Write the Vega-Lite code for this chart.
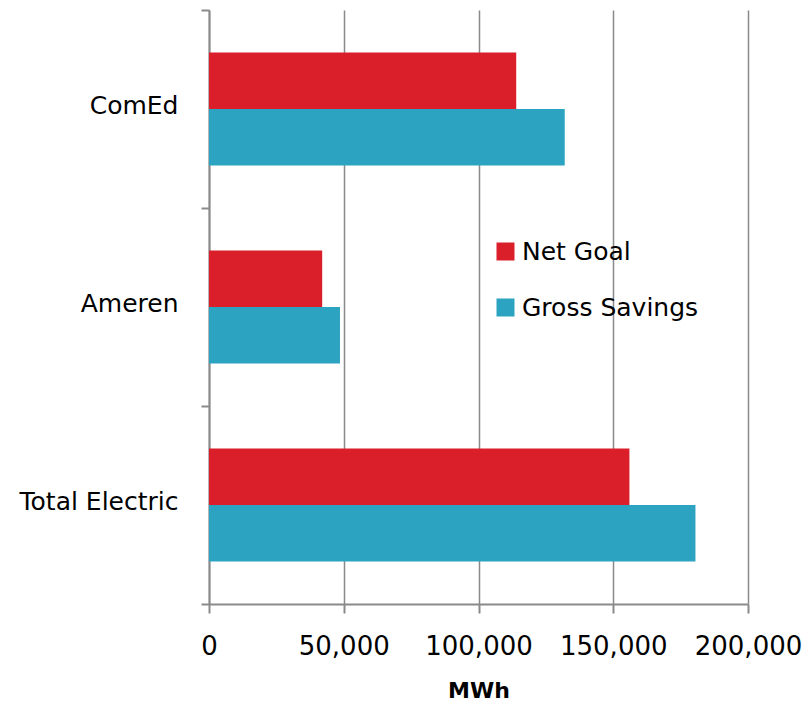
{
  "$schema": "https://vega.github.io/schema/vega-lite/v6.json",
  "autosize": "none",
  "width": 539,
  "height": 594,
  "padding": {"left": 209, "top": 10, "right": 60, "bottom": 103},
  "background": "white",
  "config": {"view": {"stroke": null}, "font": "DejaVu Sans"},
  "data": {
    "values": [
      {"utility": "ComEd", "series": "Net Goal", "mwh": 114000},
      {"utility": "ComEd", "series": "Gross Savings", "mwh": 132000},
      {"utility": "Ameren", "series": "Net Goal", "mwh": 42000},
      {"utility": "Ameren", "series": "Gross Savings", "mwh": 48600},
      {"utility": "Total Electric", "series": "Net Goal", "mwh": 156000},
      {"utility": "Total Electric", "series": "Gross Savings", "mwh": 180500}
    ]
  },
  "mark": {"type": "bar"},
  "encoding": {
    "y": {
      "field": "utility",
      "type": "nominal",
      "sort": ["ComEd", "Ameren", "Total Electric"],
      "scale": {"paddingInner": 0, "paddingOuter": 0},
      "axis": {
        "title": null,
        "tickBand": "extent",
        "domainColor": "#8a8a8a",
        "domainWidth": 2,
        "tickColor": "#8a8a8a",
        "tickWidth": 2,
        "tickSize": 8,
        "labelPadding": 23,
        "labelOffset": -4,
        "labelFontSize": 25,
        "labelColor": "#000000",
        "labelFont": "DejaVu Sans"
      }
    },
    "yOffset": {
      "field": "series",
      "type": "nominal",
      "sort": ["Net Goal", "Gross Savings"],
      "scale": {"paddingInner": 0, "paddingOuter": 0.752}
    },
    "x": {
      "field": "mwh",
      "type": "quantitative",
      "scale": {"domain": [0, 200000], "nice": false},
      "axis": {
        "title": "MWh",
        "titleFontSize": 22,
        "titleFontWeight": "bold",
        "titleColor": "#000000",
        "titlePadding": 21,
        "values": [0, 50000, 100000, 150000, 200000],
        "format": ",d",
        "grid": true,
        "gridColor": "#8a8a8a",
        "gridWidth": 1.5,
        "domainColor": "#8a8a8a",
        "domainWidth": 2,
        "tickColor": "#8a8a8a",
        "tickWidth": 2,
        "tickSize": 9,
        "labelPadding": 20,
        "labelFontSize": 26,
        "labelColor": "#000000",
        "labelFlush": false
      }
    },
    "color": {
      "field": "series",
      "type": "nominal",
      "scale": {"domain": ["Net Goal", "Gross Savings"], "range": ["#DA1F2A", "#2CA4C1"]},
      "legend": {
        "title": null,
        "orient": "none",
        "legendX": 284,
        "legendY": 229,
        "symbolType": "square",
        "symbolSize": 324,
        "symbolStrokeWidth": 0,
        "labelFontSize": 25,
        "labelLimit": 400,
        "labelColor": "#000000",
        "labelOffset": 4,
        "rowPadding": 30
      }
    }
  }
}
